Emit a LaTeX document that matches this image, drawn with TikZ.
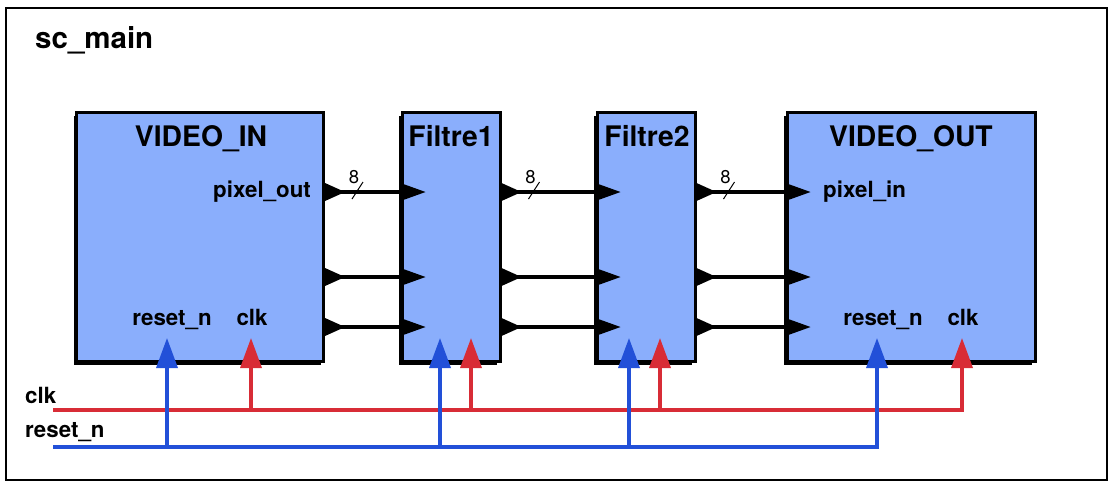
\documentclass[tikz,border=0pt]{standalone}
\usepackage{fontspec}
\setmainfont{TeX Gyre Heros}
\usetikzlibrary{shadows,arrows.meta}
\definecolor{blockfill}{RGB}{138,174,252}
\definecolor{rstblue}{RGB}{34,80,216}
\definecolor{clkred}{RGB}{216,44,54}
\begin{document}
\begin{tikzpicture}[x=1pt,y=-1pt,
  frame/.style={draw=black, line width=2pt},
  block/.style={draw=black, line width=3pt, fill=blockfill, inner sep=0pt,
    general shadow={fill=black, shadow xshift=-3pt, shadow yshift=-3pt}},
  title/.style={font=\bfseries\fontsize{28.3}{31}\selectfont, anchor=base, inner sep=0pt},
  portlabel/.style={font=\bfseries\fontsize{22.3}{25}\selectfont, anchor=base, inner sep=0pt},
  buswidth/.style={font=\fontsize{18.5}{20}\selectfont, anchor=base, inner sep=0pt},
  wire/.style={draw=black, line width=4pt},
  slash/.style={draw=black, line width=1pt},
  clkwire/.style={draw=clkred, line width=3.5pt},
  rstwire/.style={draw=rstblue, line width=3.5pt},
  sigtip/.style={-{Triangle[width=21pt,length=30pt]}},
]
\useasboundingbox (0,0) rectangle (1109,483);

% enclosing module
\node[frame, minimum width=1101pt, minimum height=472pt, inner sep=0pt] (main) at (556,244) {};
\node[font=\bfseries\fontsize{29.5}{32}\selectfont, anchor=base west, inner sep=0pt] (maintitle) at (35,48) {sc\_main};

% blocks
\node[block, minimum width=247pt, minimum height=249pt] (vin)  at (200,237) {};
\node[block, minimum width=98pt,  minimum height=249pt] (f1)   at (451,237) {};
\node[block, minimum width=98pt,  minimum height=249pt] (f2)   at (646,237) {};
\node[block, minimum width=248pt, minimum height=249pt] (vout) at (911,237) {};

\node[title] (vin-t)  at (201,146) {VIDEO\_IN};
\node[title] (f1-t)   at (451,146) {Filtre1};
\node[title] (f2-t)   at (647,146) {Filtre2};
\node[title] (vout-t) at (911,146) {VIDEO\_OUT};

% port rows
\coordinate (r1) at (0,192);
\coordinate (r2) at (0,277);
\coordinate (r3) at (0,327);

% data wires
\foreach \r in {r1,r2,r3} {
  \draw[wire] (vin.east |- \r) -- (f1.west |- \r);
  \draw[wire] (f1.east |- \r) -- (f2.west |- \r);
  \draw[wire] (f2.east |- \r) -- (vout.west |- \r);
}

% output ports (right edges) and input ports (left edges)
\foreach \b in {vin,f1,f2} {
  \foreach \r in {r1,r2,r3} {
    \fill[black] ([yshift=9pt]\b.east |- \r) -- ++(20,9) -- ++(-20,9) -- cycle;
  }
}
\foreach \b in {f1,f2,vout} {
  \foreach \r in {r1,r2,r3} {
    \fill[black] ([yshift=9pt]\b.west |- \r) -- ++(25,9) -- ++(-25,9) -- cycle;
  }
}

% bus width marks
\foreach \b/\n in {vin/a,f1/b,f2/c} {
  \draw[slash] ([xshift=27pt,yshift=-7pt]\b.east |- r1) -- ++(11,-17);
  \node[buswidth] (w\n) at ([xshift=29pt,yshift=9pt]\b.east |- r1) {8};
}

% port labels
\node[portlabel, anchor=base east] (po) at (311,197) {pixel\_out};
\node[portlabel, anchor=base west] (pi) at (823,197) {pixel\_in};
\node[portlabel] (vin-rl)  at (172,325) {reset\_n};
\node[portlabel] (vin-cl)  at (252,325) {clk};
\node[portlabel] (vout-rl) at (883,325) {reset\_n};
\node[portlabel] (vout-cl) at (963,325) {clk};

% clock / reset input points
\coordinate (vin-rst)  at (167,338);
\coordinate (vin-clk)  at (251,338);
\coordinate (f1-rst)   at (440,338);
\coordinate (f1-clk)   at (471,338);
\coordinate (f2-rst)   at (629,338);
\coordinate (f2-clk)   at (660,338);
\coordinate (vout-rst) at (877,338);
\coordinate (vout-clk) at (962,338);

\coordinate (clkbus) at (53,410);
\coordinate (rstbus) at (53,447);

\node[portlabel, anchor=base west] (clk-l) at (25,403) {clk};
\node[portlabel, anchor=base west] (rst-l) at (25,437) {reset\_n};

% clock distribution
\draw[clkwire, sigtip] (clkbus) -| (vout-clk);
\foreach \b in {vin,f1,f2}
  \draw[clkwire, sigtip] (\b-clk |- clkbus) -- (\b-clk);

% reset distribution
\draw[rstwire, sigtip] (rstbus) -| (vout-rst);
\foreach \b in {vin,f1,f2}
  \draw[rstwire, sigtip] (\b-rst |- rstbus) -- (\b-rst);
\end{tikzpicture}
\end{document}
